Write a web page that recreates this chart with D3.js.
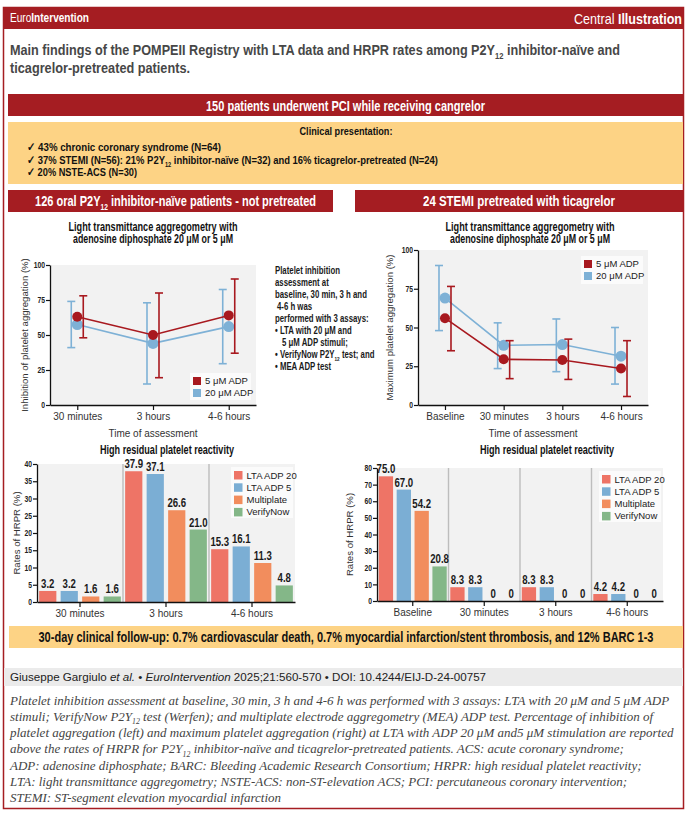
<!DOCTYPE html>
<html>
<head>
<meta charset="utf-8">
<script src="https://cdn.jsdelivr.net/npm/d3@7"></script>
<style>
body { margin: 0; background: #fff; }
text { font-family: "Liberation Sans", Arial, sans-serif; }
.serif { font-family: "Liberation Serif", "DejaVu Serif", serif; font-style: italic; }
</style>
</head>
<body>
<script>
// ---- data ----
var naiveTimes = ["30 minutes", "3 hours", "4-6 hours"];
var naiveIpa5 = [63, 50, 64];
var naiveIpa5Low = [48, 19.5, 37];
var naiveIpa5High = [78, 80, 90];
var naiveIpa20 = [57.5, 44, 56];
var naiveIpa20Low = [41, 15, 29.5];
var naiveIpa20High = [74, 73, 82.5];
var pctTicks = [0, 25, 50, 75, 100];

var ticaTimes = ["Baseline", "30 minutes", "3 hours", "4-6 hours"];
var ticaMpa5 = [56, 29.5, 29, 23.5];
var ticaMpa5Low = [35, 17, 16.5, 5.5];
var ticaMpa5High = [76.5, 41.5, 42.5, 41.5];
var ticaMpa20 = [69, 38.5, 39, 31.5];
var ticaMpa20Low = [48, 23.5, 21.5, 13.5];
var ticaMpa20High = [90, 53, 55.5, 50];

var assays = ["LTA ADP 20", "LTA ADP 5", "Multiplate", "VerifyNow"];
var naiveLta20 = [3.2, 37.9, 15.3];
var naiveLta5 = [3.2, 37.1, 16.1];
var naiveMultiplate = [1.6, 26.6, 11.3];
var naiveVerifyNow = [1.6, 21.0, 4.8];
var naiveHrprTicks = [0, 5, 10, 15, 20, 25, 30, 35, 40];

var ticaLta20 = [75.0, 8.3, 8.3, 4.2];
var ticaLta5 = [67.0, 8.3, 8.3, 4.2];
var ticaMultiplate = [54.2, 0, 0, 0];
var ticaVerifyNow = [20.8, 0, 0, 0];
var ticaHrprTicks = [0, 10, 20, 30, 40, 50, 60, 70, 80];

var adpNames = ["5 μM ADP", "20 μM ADP"];

// ---- colours ----
var darkRed = "#A51D22";
var yellow = "#FDD385";
var plotBg = "#F2F2F2";
var lineRed = "#A8191F";
var lineBlue = "#7EB1D6";
var barColors = ["#EE7466", "#7BAED4", "#F28D5D", "#84B788"];

var svg = d3.select("body").append("svg")
    .attr("width", 692)
    .attr("height", 816);

// no condensed face installed: squeeze bold text horizontally instead
function squeeze(sel, width, factor) {
    sel.each(function() {
        var w = width || this.getComputedTextLength() * (factor || 0.78);
        d3.select(this).attr("textLength", w).attr("lengthAdjust", "spacingAndGlyphs");
    });
    return sel;
}

// text with sub/bold/italic pieces
function rich(sel, parts, size) {
    var shift = 0;
    parts.forEach(function(p) {
        var t;
        if (typeof p === "string") {
            t = sel.append("tspan").text(p);
            if (shift) { t.attr("dy", -shift); shift = 0; }
        } else if (p.sub) {
            shift = size * 0.28;
            sel.append("tspan").attr("font-size", size * 0.6).attr("dy", shift).text(p.sub);
        } else {
            t = sel.append("tspan").text(p.t);
            if (p.b) t.attr("font-weight", "bold");
            if (p.i) t.attr("font-style", "italic");
            if (p.n) t.attr("font-weight", "normal");
        }
    });
    return sel;
}

function boldText(x, y, size, fill, anchor) {
    return svg.append("text").attr("x", x).attr("y", y)
        .attr("font-size", size).attr("font-weight", "bold")
        .attr("fill", fill).attr("text-anchor", anchor || "start");
}

// ---- frame and header ----
svg.append("rect")
    .attr("x", 3.5).attr("y", 7.5)
    .attr("width", 680).attr("height", 801)
    .attr("fill", "none").attr("stroke", darkRed).attr("stroke-width", 1.5);

svg.append("rect")
    .attr("x", 3).attr("y", 7).attr("width", 681).attr("height", 22)
    .attr("fill", darkRed);

squeeze(rich(svg.append("text").attr("x", 10).attr("y", 22)
    .attr("font-size", 12).attr("fill", "#fff"),
    [{t: "Euro", n: true}, {t: "Intervention", b: true}], 12), 79);

squeeze(rich(svg.append("text").attr("x", 682).attr("y", 23.5)
    .attr("text-anchor", "end").attr("font-size", 15).attr("fill", "#fff"),
    [{t: "Central ", n: true}, {t: "Illustration", b: true}], 15), 108);

squeeze(rich(boldText(10, 55, 14.5, "#474747"),
    ["Main findings of the POMPEII Registry with LTA data and HRPR rates among P2Y", {sub: "12"}, " inhibitor-naïve and"], 14.5), 610);
squeeze(boldText(10, 73, 14.5, "#474747").text("ticagrelor-pretreated patients."), 180);

// ---- banners ----
svg.append("rect").attr("x", 8).attr("y", 94).attr("width", 675).attr("height", 22).attr("fill", darkRed);
squeeze(boldText(345.5, 110.5, 15, "#fff", "middle")
    .text("150 patients underwent PCI while receiving cangrelor"), 279);

svg.append("rect").attr("x", 8).attr("y", 122).attr("width", 675).attr("height", 62).attr("fill", yellow);
squeeze(boldText(346, 134.5, 11.5, "#111", "middle").text("Clinical presentation:"), 93);

var clinLines = [
    ["✓ 43% chronic coronary syndrome (N=64)"],
    ["✓ 37% STEMI (N=56): 21% P2Y", {sub: "12"}, " inhibitor-naïve (N=32) and 16% ticagrelor-pretreated (N=24)"],
    ["✓ 20% NSTE-ACS (N=30)"]
];
var clinWidths = [194, 411, 110];
clinLines.forEach(function(parts, i) {
    squeeze(rich(boldText(27, 151 + i * 12.5, 11.5, "#111"), parts, 11.5), clinWidths[i]);
});

svg.append("rect").attr("x", 8).attr("y", 190).attr("width", 325).attr("height", 22).attr("fill", darkRed);
svg.append("rect").attr("x", 355).attr("y", 190).attr("width", 328).attr("height", 22).attr("fill", darkRed);
squeeze(rich(boldText(175.5, 206, 15, "#fff", "middle"),
    ["126 oral P2Y", {sub: "12"}, " inhibitor-naïve patients - not pretreated"], 15), 281);
squeeze(boldText(519, 206, 15, "#fff", "middle").text("24 STEMI pretreated with ticagrelor"), 192);

// ---- line charts ----
function chartTitle(lines, widths, cx, y0) {
    lines.forEach(function(l, i) {
        squeeze(boldText(cx, y0 + i * 11.5, 12.5, "#111", "middle").text(l), widths[i]);
    });
}

function styleAxis(ax) {
    ax.select(".domain").attr("stroke", "#111").attr("stroke-width", 1.3);
    ax.selectAll(".tick line").attr("stroke", "#111").attr("stroke-width", 1.2);
}

function legend(x0, y0, w, h, names, colors, step, size) {
    var lg = svg.append("g").attr("transform", "translate(" + x0 + "," + y0 + ")");
    lg.append("rect").attr("width", w).attr("height", h).attr("fill", "#FBFBFB");
    var it = lg.selectAll("g.item").data(names).enter().append("g")
        .attr("class", "item")
        .attr("transform", function(d, i) { return "translate(3," + (4 + i * step) + ")"; });
    it.append("rect").attr("width", size).attr("height", size)
        .attr("fill", function(d, i) { return colors[i]; });
    it.append("text").attr("x", size + 4).attr("y", size / 2).attr("dy", "0.35em")
        .attr("font-size", 9.5).attr("fill", "#222")
        .text(function(d) { return d; });
}

function yTicks(ax) {
    squeeze(ax.selectAll(".tick text").attr("font-size", 8.5)
        .attr("font-weight", "bold").attr("fill", "#222").attr("x", -5), null, 0.8);
}

function lineChart(o) {
    var g = svg.append("g");
    var x = d3.scalePoint().domain(o.times).range([o.x0, o.x1]).padding(o.pad);
    var y = d3.scaleLinear().domain([0, 100]).range([o.y0, o.y1]);

    g.append("rect").attr("x", o.x0).attr("y", o.y1)
        .attr("width", o.x1 - o.x0).attr("height", o.y0 - o.y1).attr("fill", plotBg);

    var ya = g.append("g").attr("transform", "translate(" + o.x0 + ",0)")
        .call(d3.axisLeft(y).tickValues(pctTicks).tickSize(4).tickSizeOuter(0));
    styleAxis(ya);
    yTicks(ya);

    var xa = g.append("g").attr("transform", "translate(0," + o.y0 + ")")
        .call(d3.axisBottom(x).tickSize(5).tickSizeOuter(0));
    styleAxis(xa);
    xa.selectAll(".tick text").attr("font-size", 10).attr("fill", "#333").attr("y", 8);

    g.append("text").attr("x", (o.x0 + o.x1) / 2).attr("y", o.y0 + 32)
        .attr("text-anchor", "middle").attr("font-size", 10).attr("fill", "#333")
        .text("Time of assessment");
    g.append("text")
        .attr("transform", "translate(" + o.ylx + "," + (o.y0 + o.y1) / 2 + ") rotate(-90)")
        .attr("text-anchor", "middle").attr("font-size", 9.6).attr("fill", "#333")
        .text(o.ylabel);

    o.series.forEach(function(s) {
        var pts = o.times.map(function(t, i) {
            return {t: t, m: s.mean[i], lo: s.lo[i], hi: s.hi[i]};
        });
        g.append("path").datum(pts)
            .attr("fill", "none").attr("stroke", s.color).attr("stroke-width", 1.6)
            .attr("d", d3.line().x(function(d) { return x(d.t); }).y(function(d) { return y(d.m); }));
        var eb = g.selectAll(null).data(pts).enter().append("g")
            .attr("stroke", s.color).attr("stroke-width", 1.6);
        eb.append("line")
            .attr("x1", function(d) { return x(d.t) + s.dx; })
            .attr("x2", function(d) { return x(d.t) + s.dx; })
            .attr("y1", function(d) { return y(d.lo); })
            .attr("y2", function(d) { return y(d.hi); });
        ["lo", "hi"].forEach(function(k) {
            eb.append("line")
                .attr("x1", function(d) { return x(d.t) + s.dx - 4; })
                .attr("x2", function(d) { return x(d.t) + s.dx + 4; })
                .attr("y1", function(d) { return y(d[k]); })
                .attr("y2", function(d) { return y(d[k]); });
        });
        g.selectAll(null).data(pts).enter().append("circle")
            .attr("cx", function(d) { return x(d.t); })
            .attr("cy", function(d) { return y(d.m); })
            .attr("r", s.r).attr("fill", s.color);
    });

    legend(o.lg[0], o.lg[1], o.lg[2], o.lg[3], adpNames, [lineRed, lineBlue], 12, 8);
}

var ltaTitle = ["Light transmittance aggregometry with", "adenosine diphosphate 20 μM or 5 μM"];
chartTitle(ltaTitle, [169, 160], 153, 231);
lineChart({
    times: naiveTimes, x0: 50, x1: 256, pad: 0.36, y0: 405, y1: 265, ylx: 28,
    ylabel: "Inhibition of platelet aggregation (%)",
    series: [
        {mean: naiveIpa20, lo: naiveIpa20Low, hi: naiveIpa20High, color: lineBlue, dx: -6, r: 5.5},
        {mean: naiveIpa5, lo: naiveIpa5Low, hi: naiveIpa5High, color: lineRed, dx: 6, r: 5}
    ],
    lg: [190, 373, 61, 27]
});

chartTitle(ltaTitle, [169, 160], 530, 231);
lineChart({
    times: ticaTimes, x0: 418, x1: 648, pad: 0.46, y0: 405, y1: 250, ylx: 393,
    ylabel: "Maximum platelet aggregation (%)",
    series: [
        {mean: ticaMpa20, lo: ticaMpa20Low, hi: ticaMpa20High, color: lineBlue, dx: -6, r: 5.5},
        {mean: ticaMpa5, lo: ticaMpa5Low, hi: ticaMpa5High, color: lineRed, dx: 6, r: 5}
    ],
    lg: [581, 256, 62, 28]
});

// note between the two line charts
var noteLines = [
    ["Platelet inhibition"],
    ["assessment at"],
    ["baseline, 30 min, 3 h and"],
    ["4-6 h was"],
    ["performed with 3 assays:"],
    ["• LTA with 20 μM and"],
    ["5 μM ADP stimuli;"],
    ["• VerifyNow P2Y", {sub: "12"}, " test; and"],
    ["• MEA ADP test"]
];
var noteIndent = [0, 0, 0, 2, 0, 0, 7, 0, 0];
noteLines.forEach(function(parts, i) {
    squeeze(rich(boldText(275 + noteIndent[i], 273.5 + i * 12.1, 10, "#1a1a1a"), parts, 10), null, 0.78);
});

// ---- bar charts ----
function barChart(o) {
    var g = svg.append("g");
    var x = d3.scaleBand().domain(o.groups).range([o.x0, o.x1]);
    var xi = d3.scaleBand().domain(assays).range([0, x.bandwidth()]).paddingInner(0.2).paddingOuter(0.1);
    var y = d3.scaleLinear().domain([0, o.ymax]).range([o.y0, o.y1]);

    g.append("rect").attr("x", o.x0).attr("y", o.y1)
        .attr("width", o.x1 - o.x0).attr("height", o.y0 - o.y1).attr("fill", plotBg);

    g.selectAll("line.sep").data(o.groups.slice(1)).enter().append("line")
        .attr("class", "sep")
        .attr("x1", function(d) { return x(d); }).attr("x2", function(d) { return x(d); })
        .attr("y1", o.y1).attr("y2", o.y0)
        .attr("stroke", "#BDBDBD").attr("stroke-width", 1.4);

    var rows = [];
    o.groups.forEach(function(gr, gi) {
        assays.forEach(function(a, ai) {
            rows.push({g: gr, a: a, ai: ai, v: o.values[ai][gi]});
        });
    });

    g.selectAll("rect.bar").data(rows).enter().append("rect")
        .attr("class", "bar")
        .attr("x", function(d) { return x(d.g) + xi(d.a); })
        .attr("y", function(d) { return y(d.v); })
        .attr("width", xi.bandwidth())
        .attr("height", function(d) { return o.y0 - y(d.v); })
        .attr("fill", function(d) { return barColors[d.ai]; });

    var vals = g.selectAll("text.val").data(rows).enter().append("text")
        .attr("class", "val")
        .attr("x", function(d) { return x(d.g) + xi(d.a) + xi.bandwidth() / 2; })
        .attr("y", function(d) { return y(d.v) - 3; })
        .attr("text-anchor", "middle").attr("font-size", 13).attr("font-weight", "bold").attr("fill", "#1b1b1b")
        .text(function(d) { return d.v === 0 ? "0" : d.v.toFixed(1); });
    squeeze(vals, null, 0.74);

    var ya = g.append("g").attr("transform", "translate(" + o.x0 + ",0)")
        .call(d3.axisLeft(y).tickValues(o.ticks).tickSize(4).tickSizeOuter(0));
    styleAxis(ya);
    yTicks(ya);

    var xa = g.append("g").attr("transform", "translate(0," + o.y0 + ")")
        .call(d3.axisBottom(x).tickSize(5).tickSizeOuter(0));
    styleAxis(xa);
    xa.selectAll(".tick text").attr("font-size", 10).attr("fill", "#333").attr("y", 8);

    g.append("text")
        .attr("transform", "translate(" + o.ylx + "," + (o.y0 + o.y1) / 2 + ") rotate(-90)")
        .attr("text-anchor", "middle").attr("font-size", 9.6).attr("fill", "#333")
        .text("Rates of HRPR (%)");

    squeeze(boldText(o.tx, 454, 12.5, "#111", "middle").text("High residual platelet reactivity"), 134);

    legend(o.lg[0], o.lg[1], o.lg[2], o.lg[3], assays, barColors, 12.3, 8.5);
}

barChart({
    groups: naiveTimes, x0: 37, x1: 295, y0: 602, y1: 464, ymax: 40, ticks: naiveHrprTicks,
    values: [naiveLta20, naiveLta5, naiveMultiplate, naiveVerifyNow],
    ylx: 20, tx: 167, lg: [231, 467, 62, 51]
});
barChart({
    groups: ticaTimes, x0: 377, x1: 663, y0: 601, y1: 468, ymax: 80, ticks: ticaHrprTicks,
    values: [ticaLta20, ticaLta5, ticaMultiplate, ticaVerifyNow],
    ylx: 353, tx: 547, lg: [599, 471, 62, 51]
});

// ---- follow-up, citation and caption ----
svg.append("rect").attr("x", 9).attr("y", 626).attr("width", 674).attr("height", 22).attr("fill", yellow);
squeeze(boldText(346, 642, 14, "#111", "middle")
    .text("30-day clinical follow-up: 0.7% cardiovascular death, 0.7% myocardial infarction/stent thrombosis, and 12% BARC 1-3"), 615);

svg.append("rect").attr("x", 4).attr("y", 668).attr("width", 679).attr("height", 18).attr("fill", "#EBEBEB");
rich(svg.append("text").attr("x", 10).attr("y", 681)
    .attr("font-size", 11.6).attr("fill", "#222"),
    ["Giuseppe Gargiulo ", {t: "et al.", i: true}, " • ", {t: "EuroIntervention", i: true},
     " 2025;21:560-570 • DOI: 10.4244/EIJ-D-24-00757"], 11.6);

var captionLines = [
    ["Platelet inhibition assessment at baseline, 30 min, 3 h and 4-6 h was performed with 3 assays: LTA with 20 μM and 5 μM ADP"],
    ["stimuli; VerifyNow P2Y", {sub: "12"}, " test (Werfen); and multiplate electrode aggregometry (MEA) ADP test. Percentage of inhibition of"],
    ["platelet aggregation (left) and maximum platelet aggregation (right) at LTA with ADP 20 μM and5 μM stimulation are reported"],
    ["above the rates of HRPR for P2Y", {sub: "12"}, " inhibitor-naïve and ticagrelor-pretreated patients. ACS: acute coronary syndrome;"],
    ["ADP: adenosine diphosphate; BARC: Bleeding Academic Research Consortium; HRPR: high residual platelet reactivity;"],
    ["LTA: light transmittance aggregometry; NSTE-ACS: non-ST-elevation ACS; PCI: percutaneous coronary intervention;"],
    ["STEMI: ST-segment elevation myocardial infarction"]
];
captionLines.forEach(function(parts, i) {
    rich(svg.append("text").attr("class", "serif").attr("x", 10).attr("y", 704.5 + i * 16.3)
        .attr("font-size", 13).attr("fill", "#444"), parts, 13);
});
</script>
</body>
</html>
